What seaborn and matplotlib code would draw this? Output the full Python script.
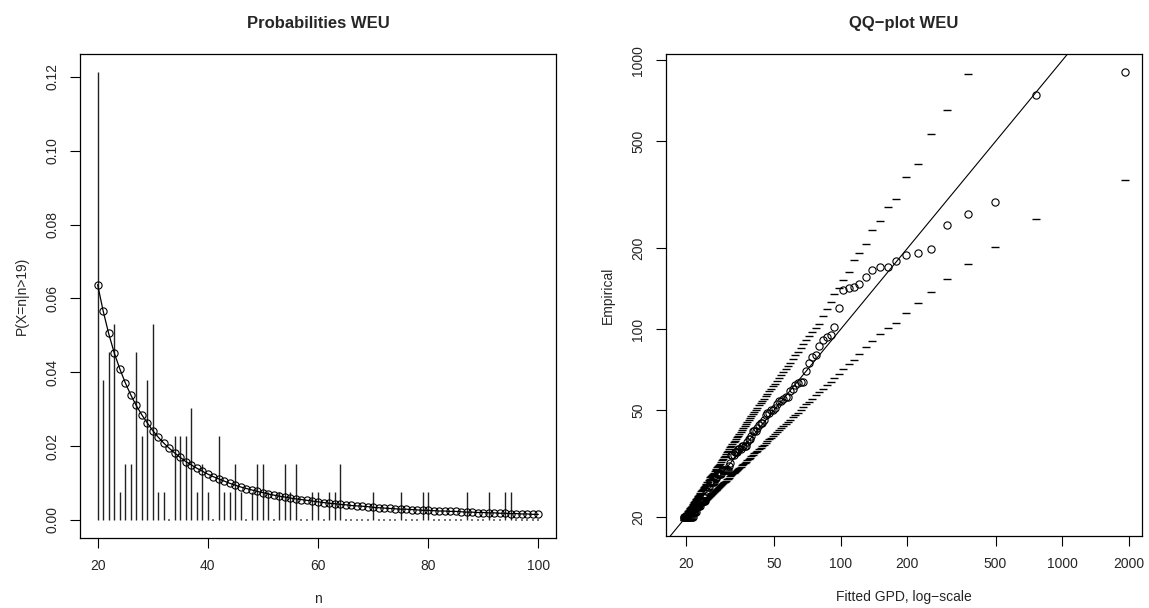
import numpy as np
import pandas as pd
import matplotlib
matplotlib.use("Agg")
import matplotlib.pyplot as plt
import seaborn as sns

# ---------------- data: left panel ----------------
n_values = list(range(20, 101))
# empirical probabilities P(X=n | n>19)
emp_prob = [0.1212, 0.0379, 0.0455, 0.0530, 0.0076, 0.0152, 0.0152, 0.0455, 0.0227, 0.0379,
            0.0530, 0.0076, 0.0076, 0.0000, 0.0227, 0.0227, 0.0227, 0.0303, 0.0076, 0.0152,
            0.0076, 0.0000, 0.0227, 0.0076, 0.0076, 0.0152, 0.0076, 0.0000, 0.0076, 0.0152,
            0.0152, 0.0076, 0.0000, 0.0076, 0.0152, 0.0076, 0.0152, 0.0000, 0.0000, 0.0076,
            0.0076, 0.0000, 0.0076, 0.0076, 0.0152, 0.0000, 0.0000, 0.0000, 0.0000, 0.0000,
            0.0076, 0.0000, 0.0000, 0.0000, 0.0000, 0.0076, 0.0000, 0.0000, 0.0000, 0.0076,
            0.0076, 0.0000, 0.0000, 0.0000, 0.0000, 0.0000, 0.0000, 0.0076, 0.0000, 0.0000,
            0.0000, 0.0076, 0.0000, 0.0000, 0.0076, 0.0076, 0.0000, 0.0000, 0.0000, 0.0000,
            0.0000]
# fitted probabilities (circles joined by a line)
fit_prob = [0.0637, 0.0566, 0.0505, 0.0453, 0.0410, 0.0372, 0.0339, 0.0310, 0.0285, 0.0263,
            0.0242, 0.0224, 0.0208, 0.0194, 0.0181, 0.0169, 0.0158, 0.0149, 0.0140, 0.0132,
            0.0124, 0.0117, 0.0111, 0.0105, 0.0099, 0.0094, 0.0089, 0.0085, 0.0081, 0.0077,
            0.0074, 0.0070, 0.0067, 0.0064, 0.0062, 0.0059, 0.0057, 0.0055, 0.0053, 0.0051,
            0.0049, 0.0047, 0.0045, 0.0044, 0.0042, 0.0041, 0.0039, 0.0038, 0.0037, 0.0036,
            0.0034, 0.0033, 0.0032, 0.0031, 0.0030, 0.0029, 0.0029, 0.0028, 0.0027, 0.0026,
            0.0026, 0.0025, 0.0024, 0.0024, 0.0023, 0.0023, 0.0022, 0.0021, 0.0021, 0.0020,
            0.0020, 0.0019, 0.0019, 0.0018, 0.0018, 0.0017, 0.0017, 0.0016, 0.0016, 0.0015,
            0.0015]
left_xticks = [20, 40, 60, 80, 100]
left_yticks = [0.00, 0.02, 0.04, 0.06, 0.08, 0.10, 0.12]

# ---------------- data: right panel (QQ plot), largest first ----------------
fitted_q = [1919, 761, 496, 374, 303, 257, 223, 198, 178, 163,
            150, 139, 130, 121.5, 114.6, 109, 103, 98.4, 93.4, 90.1,
            86.5, 83.2, 80.1, 77.3, 74.7, 72.3, 70.1, 68.0, 66.0, 64.2,
            62.5, 60.8, 59.3, 57.8, 56.5, 55.2, 54.0, 52.8, 51.7, 50.6,
            49.6, 48.6, 47.7, 46.8, 46.0, 45.1, 44.3, 43.6, 42.9, 42.2,
            41.5, 40.9, 40.2, 39.6, 39.0, 38.5, 37.9, 37.4, 36.9, 36.4,
            35.9, 35.4, 35.0, 34.5, 34.1, 33.7, 33.3, 32.9, 32.5, 32.2,
            31.8, 31.4, 31.1, 30.8, 30.4, 30.1, 29.8, 29.5, 29.2, 28.9,
            28.6, 28.3, 28.1, 27.8, 27.5, 27.3, 27.1, 26.8, 26.6, 26.3,
            26.1, 25.9, 25.7, 25.5, 25.2, 25.0, 24.8, 24.6, 24.4, 24.2,
            24.1, 23.9, 23.7, 23.5, 23.3, 23.2, 23.0, 22.8, 22.7, 22.5,
            22.4, 22.2, 22.1, 21.9, 21.8, 21.6, 21.5, 21.3, 21.2, 21.0,
            20.9, 20.8, 20.6, 20.5, 20.4, 20.3, 20.1, 20.0, 19.9, 19.8,
            19.7, 19.6]
empirical = [904, 744, 298, 268, 245, 199, 192, 189, 180, 170,
             170, 166, 157, 147, 144, 143, 140, 120, 102, 95,
             94, 91, 87, 80, 79, 75, 70, 64, 64, 63,
             62, 60, 59, 56, 56, 55, 54, 54, 53, 51,
             50, 50, 49, 49, 48, 46, 45, 45, 44, 43,
             42, 42, 42, 40, 39, 39, 38, 37, 37, 37,
             37, 36, 36, 36, 35, 35, 35, 34, 34, 34,
             32, 31, 30, 30, 30, 30, 30, 30, 30, 29,
             29, 29, 29, 29, 28, 28, 28, 27, 27, 27,
             27, 27, 27, 26, 26, 25, 25, 24, 23, 23,
             23, 23, 23, 23, 23, 22, 22, 22, 22, 22,
             22, 21, 21, 21, 21, 21, 20, 20, 20, 20,
             20, 20, 20, 20, 20, 20, 20, 20, 20, 20,
             20, 20]
upper_band = [9000, 2400, 1300, 891, 655, 533, 413, 370, 306, 284,
              254, 235, 208, 192, 181, 163, 153, 142, 136, 126,
              119.5, 112, 105, 101.6, 97.9, 94.4, 91.1, 88.1, 85.1, 82.5,
              80.0, 77.5, 75.3, 73.1, 71.2, 69.4, 67.7, 66.0, 64.5, 62.9,
              61.5, 60.1, 58.9, 57.6, 56.5, 55.2, 54.1, 53.1, 52.2, 51.2,
              50.2, 49.4, 48.4, 47.6, 46.7, 46.0, 45.2, 44.5, 43.8, 43.1,
              42.3, 41.6, 41.0, 40.3, 39.7, 39.2, 38.6, 38.0, 37.4, 37.0,
              36.4, 35.8, 35.4, 34.9, 34.4, 33.9, 33.5, 33.0, 32.6, 32.2,
              31.7, 31.4, 31.1, 30.7, 30.3, 30.0, 29.7, 29.3, 29.1, 28.7,
              28.4, 28.2, 27.9, 27.6, 27.2, 27.0, 26.7, 26.4, 26.2, 25.9,
              25.7, 25.5, 25.2, 25.0, 24.7, 24.5, 24.3, 24.0, 23.9, 23.6,
              23.5, 23.2, 23.1, 22.8, 22.7, 22.4, 22.3, 22.0, 21.9, 21.6,
              21.5, 21.3, 21.1, 21.0, 20.8, 20.7, 20.4, 20.3, 20.1, 20.0,
              19.9, 19.7]
lower_band = [360, 258, 203, 175, 154, 138, 125.5, 115, 106, 101.6,
              96.2, 90.9, 86.3, 81.1, 77.1, 74.4, 71.1, 68.5, 65.8, 64.0,
              62.0, 60.1, 58.4, 56.8, 55.3, 53.9, 52.6, 51.4, 50.2, 49.1,
              48.1, 47.1, 46.2, 45.3, 44.5, 43.7, 42.9, 42.2, 41.5, 40.8,
              40.2, 39.5, 39.0, 38.4, 37.9, 37.3, 36.8, 36.3, 35.9, 35.4,
              34.9, 34.6, 34.1, 33.7, 33.3, 33.0, 32.6, 32.2, 31.9, 31.6,
              31.2, 30.9, 30.6, 30.3, 30.0, 29.7, 29.4, 29.2, 28.9, 28.7,
              28.4, 28.1, 27.9, 27.7, 27.4, 27.2, 27.0, 26.8, 26.6, 26.4,
              26.1, 25.9, 25.8, 25.6, 25.4, 25.2, 25.1, 24.9, 24.7, 24.5,
              24.3, 24.2, 24.0, 23.9, 23.7, 23.5, 23.4, 23.2, 23.1, 22.9,
              22.9, 22.7, 22.6, 22.4, 22.3, 22.2, 22.1, 21.9, 21.8, 21.7,
              21.6, 21.5, 21.4, 21.2, 21.2, 21.0, 20.9, 20.8, 20.7, 20.5,
              20.5, 20.4, 20.2, 20.2, 20.1, 20.0, 19.9, 19.8, 19.7, 19.6,
              19.5, 19.5]
right_xticks = [20, 50, 100, 200, 500, 1000, 2000]
right_yticks = [20, 50, 100, 200, 500, 1000]

# ---------------- style ----------------
sns.set_theme(style="white")
plt.rcParams["font.family"] = ["Liberation Sans", "DejaVu Sans"]
plt.rcParams["axes.edgecolor"] = "black"
plt.rcParams["axes.linewidth"] = 0.9

W, H = 1149, 608
fig = plt.figure(figsize=(W / 100, H / 100), dpi=100)
fig.patch.set_facecolor("white")

def frac(x0, y0, x1, y1):
    return [x0 / W, 1 - y1 / H, (x1 - x0) / W, (y1 - y0) / H]

ax1 = fig.add_axes(frac(80, 54.3, 556, 537.8))
ax2 = fig.add_axes(frac(666, 54.3, 1142, 536))

tick_fs = 10
# ---------- left panel ----------
left_df = pd.DataFrame({"n": n_values, "emp": emp_prob, "fit": fit_prob})
nz = left_df[left_df["emp"] > 0]
zr = left_df[left_df["emp"] == 0]
ax1.vlines(nz["n"], 0, nz["emp"], color="#222222", linewidth=1.0)
sns.scatterplot(data=zr, x="n", y="emp", ax=ax1, marker="s", s=1.2,
                color="#777777", linewidth=0, legend=False)
sns.lineplot(data=left_df, x="n", y="fit", ax=ax1, color="black", linewidth=0.9,
             marker="o", markersize=5.2, markerfacecolor="none",
             markeredgecolor="black", markeredgewidth=0.8, legend=False)
ax1.set_xlim(16.8, 103.2)
ax1.set_ylim(-0.00485, 0.1261)
ax1.set_xticks(left_xticks)
ax1.set_xticklabels([str(v) for v in left_xticks])
ax1.set_yticks(left_yticks)
ax1.set_yticklabels([f"{v:.2f}" for v in left_yticks])
ax1.set_title("Probabilities WEU", fontsize=12, fontweight="bold", pad=19)
ax1.set_xlabel("n", fontsize=tick_fs, labelpad=14)
ax1.set_ylabel("P(X=n|n>19)", fontsize=tick_fs, labelpad=12)

# ---------- right panel ----------
qq_df = pd.DataFrame({"fitted": fitted_q, "empirical": empirical,
                      "upper": upper_band, "lower": lower_band})
ax2.set_xscale("log")
ax2.set_yscale("log")
ax2.set_xlim(16.32, 2289)
ax2.set_ylim(17.06, 1054)
sns.scatterplot(data=qq_df, x="fitted", y="upper", ax=ax2, marker="_", s=30,
                color="black", linewidth=1.0, legend=False)
sns.scatterplot(data=qq_df, x="fitted", y="lower", ax=ax2, marker="_", s=30,
                color="black", linewidth=1.0, legend=False)
ax2.plot(qq_df["fitted"], qq_df["empirical"], linestyle="none", marker="o",
         markersize=5.2, markerfacecolor="none", markeredgecolor="black",
         markeredgewidth=0.8)
ax2.axline((20, 20), (1000, 1000), color="black", linewidth=0.8)
ax2.set_xticks(right_xticks)
ax2.set_xticklabels([str(v) for v in right_xticks])
ax2.set_yticks(right_yticks)
ax2.set_yticklabels([str(v) for v in right_yticks])
ax2.minorticks_off()
ax2.set_title("QQ\u2212plot WEU", fontsize=12, fontweight="bold", pad=19)
ax2.set_xlabel("Fitted GPD, log\u2212scale", fontsize=tick_fs, labelpad=14)
ax2.set_ylabel("Empirical", fontsize=tick_fs, labelpad=12)

for ax in (ax1, ax2):
    for sp in ax.spines.values():
        sp.set_visible(True)
        sp.set_color("black")
        sp.set_linewidth(0.9)
    ax.tick_params(axis="both", which="major", direction="out", length=7,
                   width=0.8, color="black", labelsize=tick_fs, pad=8,
                   bottom=True, left=True, top=False, right=False)
    for lab in ax.get_yticklabels():
        lab.set_rotation(90)
        lab.set_va("center")
    ax.grid(False)

fig.savefig("out.png", dpi=100, facecolor="white")
